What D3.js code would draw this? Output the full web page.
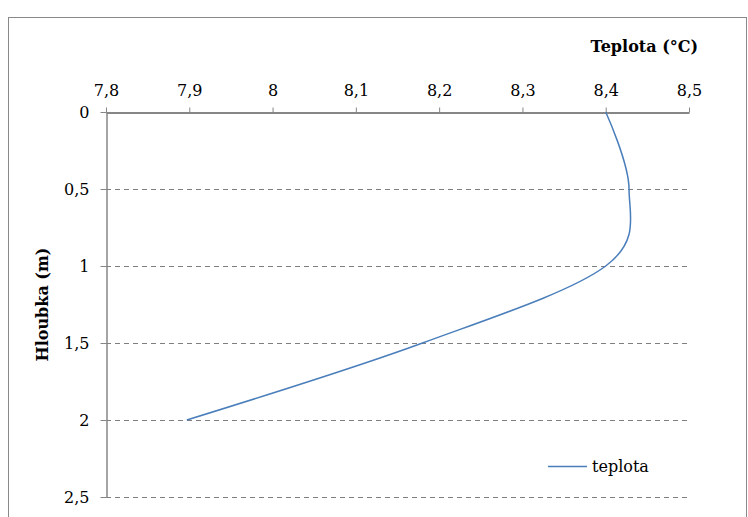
<!DOCTYPE html>
<html><head><meta charset="utf-8">
<script src="https://cdn.jsdelivr.net/npm/d3@7"></script>
<style>body{margin:0;background:#fff}svg{display:block}</style>
</head><body>
<script>
const depths = [0, 0.5, 1, 1.5, 2];
const temps = [8.40, 8.428, 8.40, 8.18, 7.897];
const xTicks = [7.8, 7.9, 8.0, 8.1, 8.2, 8.3, 8.4, 8.5];
const yTicks = [0, 0.5, 1, 1.5, 2, 2.5];
const seriesName = "teplota";
const xTitle = "Teplota (°C)";
const yTitle = "Hloubka (m)";

const W = 748, H = 517;
const font = "'DejaVu Serif', 'Liberation Serif', serif";
const svg = d3.select("body").append("svg").attr("width", W).attr("height", H);

svg.append("rect").attr("x", 8.5).attr("y", 17.5).attr("width", 738).attr("height", 520)
  .attr("fill", "#fff").attr("stroke", "#898989").attr("stroke-width", 1);

const x = d3.scaleLinear().domain([7.8, 8.5]).range([106, 689]);
const y = d3.scaleLinear().domain([0, 2.5]).range([112, 497]);
const fmt = d => d3.format("~g")(+d.toFixed(1)).replace(".", ",");

// gridlines
svg.append("g").selectAll("line").data(yTicks.filter(d => d > 0)).join("line")
  .attr("x1", x(7.8)).attr("x2", x(8.5))
  .attr("y1", d => Math.round(y(d)) + 0.5).attr("y2", d => Math.round(y(d)) + 0.5)
  .attr("stroke", "#7f7f7f").attr("stroke-width", 1).attr("stroke-dasharray", "5,4");

// top x axis
const gx = svg.append("g").attr("transform", `translate(0,${Math.round(y(0)) + 0.5})`)
  .call(d3.axisTop(x).tickValues(xTicks).tickSize(5).tickSizeOuter(0).tickPadding(12).tickFormat(fmt));
gx.select(".domain").attr("stroke", "#868686").attr("stroke-width", 2);
gx.selectAll(".tick line").attr("stroke", "#868686");
gx.selectAll("text").attr("font-family", font).attr("font-size", 16).attr("fill", "#000");

// left y axis
const gy = svg.append("g").attr("transform", `translate(${Math.round(x(7.8)) + 0.5},0)`)
  .call(d3.axisLeft(y).tickValues(yTicks).tickSize(6).tickSizeOuter(0).tickPadding(11).tickFormat(fmt));
gy.select(".domain").attr("stroke", "#868686").attr("stroke-width", 1.5);
gy.selectAll(".tick line").attr("stroke", "#868686");
gy.selectAll("text").attr("font-family", font).attr("font-size", 16).attr("fill", "#000");

// titles
svg.append("text").attr("x", 698).attr("y", 52).attr("text-anchor", "end")
  .attr("font-family", font).attr("font-weight", "bold").attr("font-size", 16).text(xTitle);
svg.append("text").attr("transform", `translate(48,${y(1.25)}) rotate(-90)`).attr("text-anchor", "middle")
  .attr("font-family", font).attr("font-weight", "bold").attr("font-size", 16).text(yTitle);

// line
const pts = depths.map((d, i) => [temps[i], d]);
svg.append("path").datum(pts)
  .attr("d", d3.line().x(d => x(d[0])).y(d => y(d[1])).curve(d3.curveCatmullRom.alpha(0)))
  .attr("fill", "none").attr("stroke", "#4a7ebb").attr("stroke-width", 1.5);

// legend
svg.append("line").attr("x1", 548).attr("x2", 587).attr("y1", 466.5).attr("y2", 466.5)
  .attr("stroke", "#4a7ebb").attr("stroke-width", 1.5);
svg.append("text").attr("x", 592).attr("y", 471.5).attr("font-family", font).attr("font-size", 16).text(seriesName);
</script>
</body></html>
